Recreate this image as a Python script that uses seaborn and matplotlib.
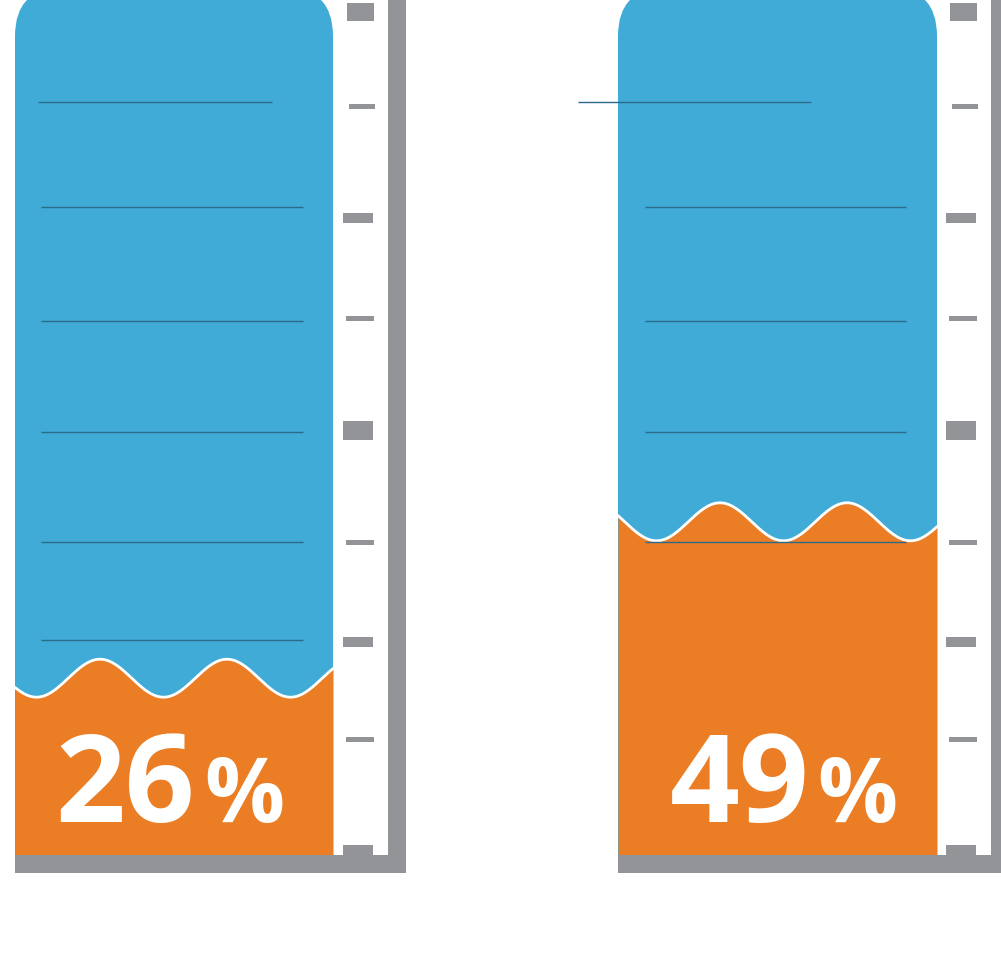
import numpy as np
import pandas as pd
import seaborn as sns
import matplotlib.pyplot as plt
from matplotlib.patches import FancyBboxPatch, Rectangle

# ---- data ----
values = [26, 49]
labels = ["26", "49"]
suffix = "%"

# ---- style / layout ----
BLUE = "#3FABD6"
ORANGE = "#EB7D24"
GRAY = "#939498"
DARK = "#2d6a8a"
PX_PER_PCT = 6.8
BASE_PX = 855

sns.set_theme(style="white")
plt.rcParams['font.family'] = ['Open Sans', 'DejaVu Sans']


def P(py):
    """pixel row -> axis value (percent scale)"""
    return (BASE_PX - py) / PX_PER_PCT


fig = plt.figure(figsize=(10.01, 9.57), dpi=100)
ax = fig.add_axes([0, 0, 1, 1])
ax.set_xlim(0, 1001)
ax.set_ylim(P(957), P(0))
ax.axis('off')

gauges = [
    dict(x0=15, w=318, phase=85, amp=19,
         lines=[(102, 23, 257), (207, 26, 288), (321, 26, 288), (432, 26, 288), (542, 26, 288), (640, 26, 288)],
         num_right=180, pct_left=189),
    dict(x0=618, w=319, phase=102, amp=19,
         lines=[(102, -40, 193), (207, 27, 288), (321, 27, 288), (432, 27, 288), (542, 27, 288)],
         num_right=192, pct_left=199),
]
ticks = [(12, 18, 332, 359), (106, 5, 334, 360), (218, 10, 328, 358), (318, 5, 331, 359),
         (430, 19, 328, 358), (542, 5, 331, 359), (642, 10, 328, 358), (739, 5, 331, 359),
         (850, 10, 328, 358)]
WAVELEN = 127

for g, val, lab in zip(gauges, values, labels):
    x0, w = g['x0'], g['w']
    # blue tube (bottom hidden under orange fill)
    ax.add_patch(Rectangle((x0, P(BASE_PX)), w, P(300) - P(BASE_PX), fc=BLUE, ec='none', zorder=1))
    blue = FancyBboxPatch((x0, P(400)), w, P(-12) - P(400),
                          boxstyle="round,pad=0,rounding_size=48",
                          mutation_aspect=1 / PX_PER_PCT, fc=BLUE, ec='none', zorder=1)
    ax.add_patch(blue)
    # orange fill with wavy top
    xs = np.linspace(x0, x0 + w, 400)
    ys = val + (g['amp'] / PX_PER_PCT) * np.cos(2 * np.pi * (xs - (x0 + g['phase'])) / WAVELEN)
    ax.fill_between(xs, P(BASE_PX), ys, color=ORANGE, lw=0, zorder=2)
    df = pd.DataFrame({'x': xs, 'y': ys})
    sns.lineplot(data=df, x='x', y='y', color='white', lw=2.0, ax=ax, estimator=None, sort=False, zorder=3)
    # dark level lines
    for (py, a, b) in g['lines']:
        ax.plot([x0 + a, x0 + b], [P(py), P(py)], color=DARK, lw=1.0, zorder=4, solid_capstyle='butt')
    # gray frame
    ax.add_patch(Rectangle((x0 + 373, P(873)), 18, P(-10) - P(873), fc=GRAY, ec='none', zorder=5))
    ax.add_patch(Rectangle((x0, P(873)), 391, P(855) - P(873), fc=GRAY, ec='none', zorder=5))
    for (yc, h, xl, xr) in ticks:
        ax.add_patch(Rectangle((x0 + xl, P(yc + h / 2)), xr - xl, P(yc - h / 2) - P(yc + h / 2),
                               fc=GRAY, ec='none', zorder=5))
    # label
    ax.text(x0 + g['num_right'], P(822), lab, fontsize=88, fontweight='bold', color='white',
            ha='right', va='baseline', zorder=6)
    ax.text(x0 + g['pct_left'], P(822), suffix, fontsize=64, fontweight='bold', color='white',
            ha='left', va='baseline', zorder=6)

fig.savefig('out.png', dpi=100)
